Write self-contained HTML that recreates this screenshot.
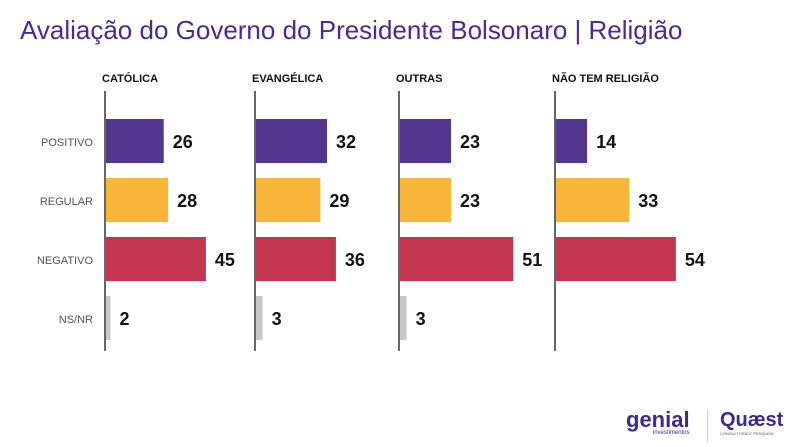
<!DOCTYPE html>
<html><head><meta charset="utf-8"><style>
body{margin:0;width:789px;height:447px;background:#fff;overflow:hidden;font-family:"Liberation Sans",sans-serif}
#title{position:absolute;left:20px;top:15px;font-size:26px;color:#4b2a91;white-space:nowrap}
</style></head><body>
<div id="title">Avaliação do Governo do Presidente Bolsonaro | Religião</div>
<svg id="c" width="789" height="447" style="position:absolute;left:0;top:0"></svg>
<div style="position:absolute;left:626px;top:410px;color:#3b2a8f;font-weight:bold;font-size:22px;line-height:20px">genial<div style="font-size:6px;line-height:7px;text-align:right;font-weight:normal">investimentos</div></div>
<div style="position:absolute;left:707px;top:410px;width:1px;height:33px;background:#ccc"></div>
<div style="position:absolute;left:720px;top:410px;color:#3b2a8f;font-weight:bold;font-size:20px;line-height:20px">Quæst<div style="font-size:4px;line-height:7px;font-weight:normal;color:#555">CONSULTORIA E PESQUISA</div></div>
<script>
const panels=["CATÓLICA","EVANGÉLICA","OUTRAS","NÃO TEM RELIGIÃO"];
const categories=["POSITIVO","REGULAR","NEGATIVO","NS/NR"];
const positivo=[26,32,23,14];
const regular=[28,29,23,33];
const negativo=[45,36,51,54];
const nsnr=[2,3,3,0];
const series=[positivo,regular,negativo,nsnr];
const colors=["#52368f","#f9b43a","#c4364f","#c8c8c8"];
const axisX=[105,255,399,555];
const NS="http://www.w3.org/2000/svg";
const svg=document.getElementById('c');
const sx=v=>v*2.22;
const rowY=i=>119+i*59;
function mk(t,a,txt){const e=document.createElementNS(NS,t);for(const k in a)e.setAttribute(k,a[k]);if(txt!==undefined)e.textContent=txt;svg.appendChild(e);return e;}
categories.forEach((c,i)=>{
 const e=mk('text',{x:93,y:rowY(i)+27,'text-anchor':'end','font-size':11,fill:'#555'},c);
 
 
});
panels.forEach((p,j)=>{
 const x0=axisX[j];
 const h=mk('text',{x:x0-3,y:82,'font-size':11,'font-weight':'bold',fill:'#111'},p);
 
 
 const ax=mk('line',{x1:x0,x2:x0,y1:91,y2:351,stroke:'#333','stroke-width':1.5});
 
 
 series.forEach((s,i)=>{
  const v=s[j]; if(!v) return;
  const w=sx(v);
  const r=mk('rect',{x:x0+1,y:rowY(i),width:w,height:44,fill:colors[i]});
  
  
  const t=mk('text',{x:x0+1+w+9,y:rowY(i)+29,'font-size':18,'font-weight':'bold',fill:'#111'},v);
  
  
 });
});
</script>
</body></html>
